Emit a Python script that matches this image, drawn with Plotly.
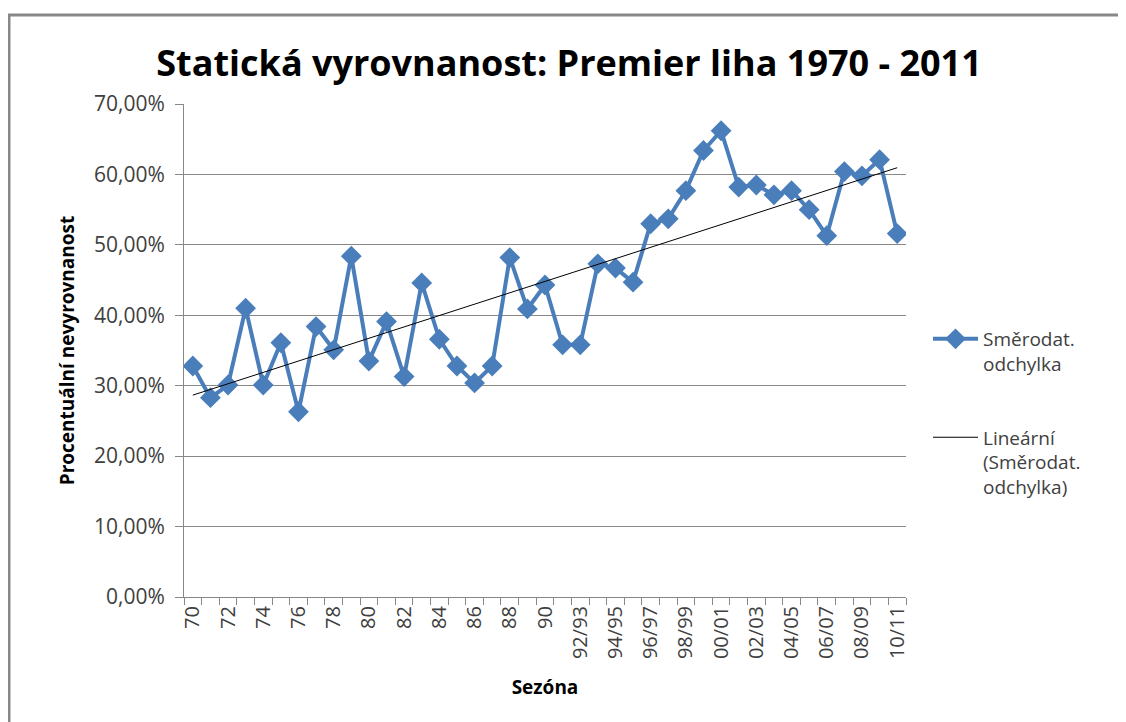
import numpy as np
import plotly.graph_objects as go

seasons = [str(y) for y in range(70, 92)] + [
    "92/93", "93/94", "94/95", "95/96", "96/97", "97/98", "98/99", "99/00",
    "00/01", "01/02", "02/03", "03/04", "04/05", "05/06", "06/07", "07/08",
    "08/09", "09/10", "10/11"]
values = [32.8, 28.3, 30.1, 41.0, 30.1, 36.1, 26.3, 38.4, 35.1, 48.4,
          33.5, 39.1, 31.3, 44.6, 36.6, 32.8, 30.4, 32.8, 48.2, 40.9,
          44.3, 35.8, 35.8, 47.3, 46.7, 44.7, 53.0, 53.7, 57.7, 63.4,
          66.2, 58.2, 58.5, 57.1, 57.7, 55.0, 51.3, 60.4, 59.8, 62.1, 51.6]
tick_labels = [s if i % 2 == 0 else "" for i, s in enumerate(seasons)]
y_ticks = [0, 10, 20, 30, 40, 50, 60, 70]
y_tick_text = ["%d,00%%" % v for v in y_ticks]

vals = np.array(values) / 100.0
idx = np.arange(len(seasons))
slope, intercept = np.polyfit(idx, vals, 1)
trend = slope * idx + intercept

FONT = "Open Sans"
fig = go.Figure()
fig.add_trace(go.Scatter(
    x=seasons, y=vals, mode="lines+markers", name="Směrodat.<br>odchylka",
    line=dict(color="#4A7EBB", width=4),
    marker=dict(symbol="diamond", size=16, color="#4A7EBB"),
    legendgroup="a"))
fig.add_trace(go.Scatter(
    x=seasons, y=trend, mode="lines", name="Lineární<br>(Směrodat.<br>odchylka)",
    line=dict(color="black", width=1), legendgroup="b"))

OFF = 8  # page offset of the plot div
L, R, T, B = 184 - OFF, 906 - OFF, 104 - OFF, 597 - OFF
W, H = 1126 - OFF, 722 - OFF
def px(x):
    return (x - OFF - L) / (R - L)
def py(y):
    return (B - (y - OFF)) / (B - T)

fig.update_layout(
    width=W, height=H,
    margin=dict(l=L, r=W - R, t=T, b=H - B),
    paper_bgcolor="white", plot_bgcolor="white",
    font=dict(family=FONT, color="#404040", size=17),
    title=dict(text="Statická vyrovnanost: Premier liha 1970 - 2011",
               x=px(569), xanchor="center", xref="paper",
               y=1 - (63 - OFF) / H, yanchor="middle",
               font=dict(family=FONT, size=36, color="black", weight="bold")),
    legend=dict(x=px(928), y=py(320), xanchor="left", yanchor="top",
                font=dict(family=FONT, size=19, color="#404040"),
                traceorder="grouped", tracegroupgap=46, valign="top",
                itemwidth=45, bgcolor="rgba(0,0,0,0)"),
    showlegend=True,
    shapes=[dict(type="rect", xref="paper", yref="paper",
                 x0=px(9), x1=px(1200), y0=py(800), y1=py(15),
                 line=dict(color="#888888", width=3), layer="below")],
)
fig.update_xaxes(
    type="category", tickmode="array", tickvals=seasons, ticktext=tick_labels,
    tickangle=-90, tickson="boundaries", ticks="outside", ticklen=7,
    tickcolor="#888888", showline=True, linecolor="#888888", linewidth=1,
    showgrid=False, tickfont=dict(family=FONT, size=20, color="#404040"),
    title=dict(text="<b>Sezóna</b>", font=dict(family=FONT, size=19, color="black"), standoff=22),
    range=[-0.5, len(seasons) - 0.5])
fig.update_yaxes(
    range=[0, 0.7], tickvals=[v / 100 for v in y_ticks], ticktext=y_tick_text,
    showgrid=True, gridcolor="#888888", gridwidth=1, showline=True,
    linecolor="#888888", ticks="outside", ticklen=8, tickcolor="#888888",
    ticklabelstandoff=6,
    tickfont=dict(family=FONT, size=21, color="#404040"), zeroline=False,
    title=dict(text="<b>Procentuální nevyrovnanost</b>", font=dict(family=FONT, size=19, color="black"), standoff=14))

fig.write_html("out.html")
